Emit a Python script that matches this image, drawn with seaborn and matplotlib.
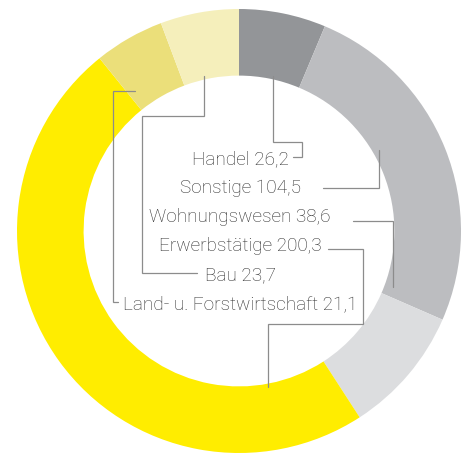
import matplotlib
matplotlib.use("Agg")
import matplotlib.pyplot as plt
import seaborn as sns

# ring segments, clockwise from 12 o'clock
sectors = ["Handel", "Sonstige", "Wohnungswesen", "Erwerbstätige",
           "Land- u. Forstwirtschaft", "Bau"]
values = [26.2, 104.5, 38.6, 200.3, 21.1, 23.7]
colors = ["#939598", "#bcbdc0", "#dcdddf", "#ffed00", "#ebdf7a", "#f5efbb"]

# order of the labels in the centre
label_order = ["Handel", "Sonstige", "Wohnungswesen", "Erwerbstätige",
               "Bau", "Land- u. Forstwirtschaft"]

# leader line routes (in units of the outer radius), label end -> ring
routes = {
    "Handel": [(0.243, 0.333), (0.284, 0.333), (0.284, 0.401), (0.153, 0.401), (0.153, 0.698)],
    "Sonstige": [(0.378, 0.194), (0.631, 0.194), (0.631, 0.365)],
    "Wohnungswesen": [(0.514, 0.045), (0.694, 0.045), (0.694, -0.252)],
    "Erwerbstätige": [(0.401, -0.081), (0.559, -0.081), (0.559, -0.419),
                      (0.131, -0.419), (0.131, -0.703)],
    "Bau": [(-0.189, -0.189), (-0.437, -0.189), (-0.437, 0.518),
            (-0.158, 0.518), (-0.158, 0.698)],
    "Land- u. Forstwirtschaft": [(-0.545, -0.320), (-0.568, -0.320),
                                 (-0.568, 0.631), (-0.468, 0.631)],
}

sns.set_style("white")
plt.rcParams["font.family"] = ["Roboto", "DejaVu Sans"]

W, H, DPI = 466, 453, 100
cx, cy, R = 239, 231, 222   # pixel centre and radius of the ring

fig = plt.figure(figsize=(W / DPI, H / DPI), dpi=DPI)
ax = fig.add_axes([0, 0, 1, 1])

ax.pie(values, colors=colors, startangle=90, counterclock=False,
       radius=1.0, wedgeprops=dict(width=0.3, edgecolor="none"))

for name, pts in routes.items():
    xs, ys = zip(*pts)
    ax.plot(xs, ys, color="#8c8c8c", lw=0.9, solid_joinstyle="miter")

val = dict(zip(sectors, values))
for i, name in enumerate(label_order):
    num = f"{val[name]:.1f}".replace(".", ",")
    y = (cy - (164 + 29 * i)) / R
    ax.text(0.005, y, f"{name} {num}", ha="center", va="baseline",
            fontsize=13.7, fontweight="light", color="#2e2e2e")

ax.set_xlim(-cx / R, (W - cx) / R)
ax.set_ylim(-(H - cy) / R, cy / R)
ax.set_aspect("equal")
ax.axis("off")

fig.savefig("out.png", dpi=DPI)
